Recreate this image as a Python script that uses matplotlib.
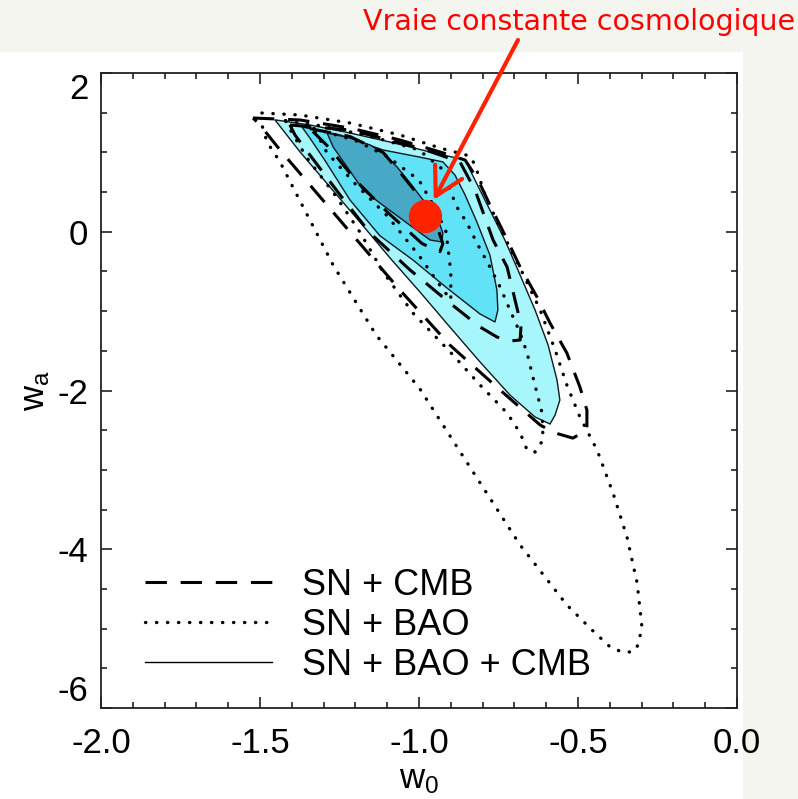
import matplotlib
matplotlib.use("Agg")
import matplotlib.pyplot as plt
from matplotlib.lines import Line2D
from matplotlib.patches import Rectangle

plt.rcParams['font.family'] = ['Liberation Sans', 'DejaVu Sans']

# ---------------- data (w0, wa) ----------------
# SN + BAO + CMB (filled, solid)
s3_w0 = [-1.453, -1.343, -1.217, -1.091, -0.965, -0.855, -0.824, -0.777, -0.730, -0.682, -0.635, -0.594,
         -0.566, -0.557, -0.572, -0.588, -0.635, -0.714, -0.808, -0.903, -0.997, -1.091, -1.186, -1.280, -1.374]
s3_wa = [1.41, 1.345, 1.244, 1.13, 1.005, 0.904, 0.652, 0.274, -0.104, -0.545, -0.986, -1.427,
         -1.868, -2.12, -2.309, -2.422, -2.334, -2.057, -1.641, -1.20, -0.759, -0.331, 0.123, 0.564, 1.005]

s2_w0 = [-1.368, -1.248, -1.113, -0.997, -0.925, -0.887, -0.855, -0.818, -0.777, -0.755, -0.752, -0.761,
         -0.808, -0.912, -1.019, -1.123, -1.217, -1.296, -1.343]
s2_wa = [1.32, 1.22, 1.03, 0.94, 0.88, 0.715, 0.463, 0.123, -0.293, -0.734, -0.986, -1.137,
         -1.036, -0.709, -0.356, -0.05, 0.40, 0.90, 1.18]

s1_w0 = [-1.289, -1.217, -1.154, -1.113, -1.069, -1.028, -0.987, -0.943, -0.925, -0.928,
         -0.965, -1.038, -1.123, -1.176, -1.226, -1.270]
s1_wa = [1.244, 1.181, 1.093, 0.992, 0.816, 0.614, 0.40, 0.186, -0.016, -0.129,
         -0.104, 0.11, 0.362, 0.526, 0.816, 1.068]

# SN + CMB (dashed)
c3_w0 = [-1.522, -1.374, -1.217, -1.060, -0.934, -0.855, -0.814, -0.777, -0.730, -0.682, -0.629, -0.588,
         -0.535, -0.494, -0.472, -0.472, -0.516, -0.572, -0.619, -0.745, -0.903, -1.060, -1.217, -1.343,
         -1.437, -1.500, -1.522]
c3_wa = [1.433, 1.408, 1.307, 1.156, 1.005, 0.904, 0.652, 0.337, -0.041, -0.444, -0.822, -1.150,
         -1.528, -1.956, -2.246, -2.498, -2.60, -2.535, -2.435, -1.994, -1.427, -0.734, -0.003, 0.589,
         1.03, 1.345, 1.433]

c2_w0 = [-1.406, -1.217, -0.997, -0.871, -0.824, -0.767, -0.723, -0.698, -0.679, -0.682, -0.714, -0.755,
         -0.808, -0.903, -1.028, -1.154, -1.248, -1.343, -1.390, -1.406]
c2_wa = [1.345, 1.282, 1.055, 0.879, 0.526, -0.104, -0.444, -0.860, -1.175, -1.364, -1.376, -1.326,
         -1.20, -0.898, -0.482, -0.016, 0.463, 0.967, 1.219, 1.345]

c1_w0 = [-1.343, -1.217, -1.113, -1.060, -1.000, -0.950, -0.925, -0.934, -0.990, -1.100, -1.200, -1.280, -1.343]
c1_wa = [1.300, 1.200, 1.000, 0.750, 0.450, 0.150, -0.150, -0.250, -0.150, 0.250, 0.650, 1.050, 1.300]

# SN + BAO (dotted)
d3_w0 = [-1.494, -1.374, -1.217, -1.060, -0.934, -0.840, -0.824, -0.792, -0.745, -0.682, -0.619, -0.572,
         -0.535, -0.494, -0.440, -0.390, -0.346, -0.314, -0.299, -0.311, -0.327, -0.362, -0.399, -0.456,
         -0.535, -0.682, -0.840, -0.997, -1.135, -1.270, -1.387, -1.437, -1.478, -1.494]
d3_wa = [1.496, 1.471, 1.370, 1.219, 1.055, 0.954, 0.841, 0.463, 0.047, -0.457, -0.986, -1.490,
         -1.931, -2.334, -2.750, -3.291, -3.846, -4.425, -4.980, -5.206, -5.294, -5.294, -5.231, -5.017,
         -4.702, -3.947, -2.964, -1.981, -1.300, -0.420, 0.488, 0.879, 1.131, 1.345]

d2_w0 = [-1.420, -1.300, -1.150, -1.000, -0.930, -0.881, -0.849, -0.818, -0.777, -0.745, -0.714, -0.682,
         -0.660, -0.645, -0.629, -0.613, -0.610, -0.635, -0.660, -0.682, -0.723, -0.808, -0.893, -1.019,
         -1.113, -1.186, -1.264, -1.352, -1.400, -1.420]
d2_wa = [1.40, 1.33, 1.20, 1.03, 0.80, 0.312, 0.110, -0.142, -0.444, -0.696, -0.986, -1.276,
         -1.528, -1.780, -2.032, -2.283, -2.624, -2.775, -2.750, -2.535, -2.283, -1.931, -1.553, -1.024,
         -0.507, -0.003, 0.463, 0.929, 1.250, 1.40]

d1_w0 = [-1.330, -1.200, -1.100, -1.000, -0.950, -0.915, -0.900, -0.900, -0.930, -1.000, -1.100, -1.200, -1.290, -1.330]
d1_wa = [1.300, 1.150, 0.950, 0.650, 0.300, 0.000, -0.500, -0.860, -0.700, -0.300, 0.200, 0.600, 1.000, 1.300]

lambda_w0, lambda_wa = -0.98, 0.20

legend_labels = ["SN + CMB", "SN + BAO", "SN + BAO + CMB"]
x_ticks = [-2.0, -1.5, -1.0, -0.5, 0.0]
x_ticklabels = ["-2.0", "-1.5", "-1.0", "-0.5", "0.0"]
y_ticks = [2, 0, -2, -4, -6]
y_ticklabels = ["2", "0", "-2", "-4", "-6"]
annotation_text = "Vraie constante cosmologique"

# ---------------- figure ----------------
W, H = 798, 799
fig = plt.figure(figsize=(W / 100, H / 100), dpi=100, facecolor='#f4f5ee')
fig.patches.append(Rectangle((0, 0), 743 / W, 1 - 52 / H, transform=fig.transFigure,
                             facecolor='white', edgecolor='none', zorder=-10))

ax = fig.add_axes([101 / W, 1 - 708 / H, 636 / W, 635 / H])
ax.set_facecolor('none')

light, mid, dark = '#a6f6fb', '#62e2f6', '#48a9c7'
edge_kw = dict(edgecolor='#101820', linewidth=1.0)
ax.fill(s3_w0, s3_wa, facecolor=light, zorder=1, **edge_kw)
ax.fill(s2_w0, s2_wa, facecolor=mid, zorder=2, **edge_kw)
ax.fill(s1_w0, s1_wa, facecolor=dark, zorder=3, **edge_kw)

dash_kw = dict(color='black', linewidth=2.2, linestyle=(0, (7, 4.5)), zorder=4)
for xs, ys in [(c3_w0, c3_wa), (c2_w0, c2_wa), (c1_w0, c1_wa)]:
    ax.plot(xs, ys, **dash_kw)

dot_kw = dict(color='black', linewidth=2.4, linestyle=(0, (0.1, 3.2)),
              dash_capstyle='round', zorder=4)
for xs, ys in [(d3_w0, d3_wa), (d2_w0, d2_wa), (d1_w0, d1_wa)]:
    ax.plot(xs, ys, solid_capstyle='round', **dot_kw)

ax.plot([lambda_w0], [lambda_wa], 'o', color='#ff2200', markersize=23, zorder=6)

ax.set_xlim(-2.0, 0.0)
ax.set_ylim(-6, 2)
ax.set_xticks(x_ticks)
ax.set_xticklabels(x_ticklabels)
ax.set_yticks(y_ticks)
ax.set_yticklabels(y_ticklabels)
ax.set_xticks([-2.0 + 0.1 * i for i in range(21)], minor=True)
ax.set_yticks([-6 + 0.5 * i for i in range(17)], minor=True)
ax.tick_params(which='both', direction='in', top=True, right=True, width=1.2, colors='#222222',
               labelcolor='black', labelsize=25)
ax.tick_params(which='major', length=8)
ax.tick_params(which='minor', length=4)
ax.tick_params(axis='x', pad=14)
ax.tick_params(axis='y', pad=9)
ylabels = ax.get_yticklabels()
ylabels[0].set_va('top')
ylabels[-1].set_va('bottom')
for s in ax.spines.values():
    s.set_linewidth(1.3)
    s.set_color('#222222')

ax.set_xlabel(r'$\mathregular{w_0}$', fontsize=25, labelpad=2)
ax.set_ylabel(r'$\mathregular{w_a}$', fontsize=25, labelpad=4)

handles = [Line2D([], [], color='black', linewidth=2.2, linestyle=(0, (7, 4.5))),
           Line2D([], [], color='black', linewidth=2.4, linestyle=(0, (0.1, 3.2)), dash_capstyle='round'),
           Line2D([], [], color='black', linewidth=1.0)]
leg = ax.legend(handles, legend_labels, loc='lower left', frameon=False, fontsize=26,
                handlelength=3.5, handletextpad=0.85, labelspacing=0.14,
                borderaxespad=0.3, bbox_to_anchor=(0.03, 0.0))

fig.text(363 / W, 1 - 22 / H, annotation_text, color='#ff0000', fontsize=20.5,
         family=['DejaVu Sans'], va='center', ha='left')
ax.annotate('', xy=(lambda_w0, lambda_wa), xycoords='data',
            xytext=(518 / W, 1 - 40 / H), textcoords='figure fraction',
            arrowprops=dict(arrowstyle='->,head_length=0.9,head_width=0.5', color='#ff2200',
                            lw=3, shrinkA=0, shrinkB=13, mutation_scale=22),
            annotation_clip=False, zorder=7)

fig.savefig('out.png', dpi=100, facecolor=fig.get_facecolor())
